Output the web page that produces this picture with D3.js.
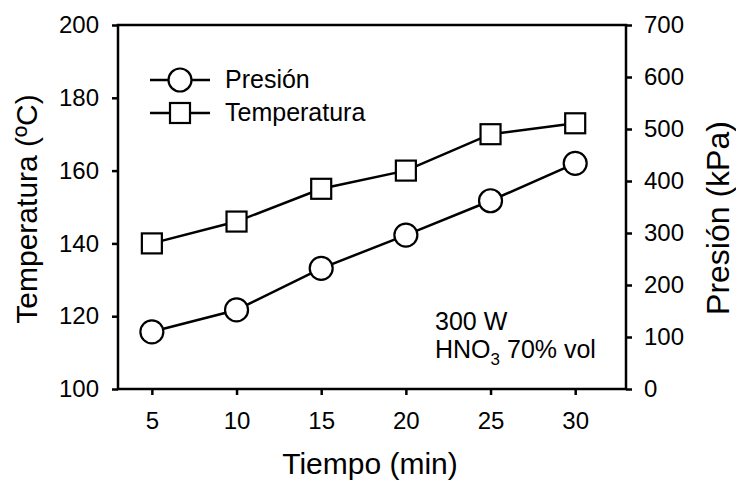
<!DOCTYPE html>
<html><head><meta charset="utf-8">
<script src="https://cdn.jsdelivr.net/npm/d3@7"></script>
<style>body{margin:0;background:#fff}svg{display:block}text{font-family:"Liberation Sans",Arial,sans-serif;fill:#000}</style>
</head><body><svg id="c" width="736" height="480"></svg>
<script>
const tiempo = [5, 10, 15, 20, 25, 30];
const presion = [110, 152, 232, 296, 362, 434];
const temperatura = [140, 146, 155, 160, 170, 173];
const xTicks = [5, 10, 15, 20, 25, 30];
const tempTicks = [100, 120, 140, 160, 180, 200];
const presTicks = [0, 100, 200, 300, 400, 500, 600, 700];

const svg = d3.select("#c");
const L = 118, R = 626, T = 25, B = 389;
const x = d3.scaleLinear().domain([3, 33]).range([L, R]);
const yT = d3.scaleLinear().domain([100, 200]).range([B, T]);
const yP = d3.scaleLinear().domain([0, 700]).range([B, T]);

svg.append("rect").attr("x", L).attr("y", T).attr("width", R - L).attr("height", B - T)
  .attr("fill", "none").attr("stroke", "#000").attr("stroke-width", 2.5);

const fs = "24px";
const gx = svg.append("g").attr("transform", `translate(0,${B})`)
  .call(d3.axisBottom(x).tickValues(xTicks).tickSize(6).tickPadding(17));
const gl = svg.append("g").attr("transform", `translate(${L},0)`)
  .call(d3.axisLeft(yT).tickValues(tempTicks).tickSize(6).tickPadding(13));
const gr = svg.append("g").attr("transform", `translate(${R},0)`)
  .call(d3.axisRight(yP).tickValues(presTicks).tickSize(6).tickPadding(12));
[gx, gl, gr].forEach(g => {
  g.attr("font-size", null).attr("font-family", null);
  g.select(".domain").remove();
  g.selectAll(".tick line").attr("stroke", "#000").attr("stroke-width", 2.5);
  g.selectAll(".tick text").attr("font-size", fs).attr("fill", "#000");
});

svg.append("text").attr("x", 370).attr("y", 474).attr("text-anchor", "middle")
  .attr("font-size", "30px").text("Tiempo (min)");
svg.append("text").attr("transform", `translate(37,209) rotate(-90)`)
  .attr("text-anchor", "middle").attr("font-size", "30px").text("Temperatura (ºC)");
svg.append("text").attr("transform", `translate(729,218) rotate(-90)`)
  .attr("text-anchor", "middle").attr("font-size", "32px").text("Presión (kPa)");

const lineT = d3.line().x((d, i) => x(tiempo[i])).y(d => yT(d));
const lineP = d3.line().x((d, i) => x(tiempo[i])).y(d => yP(d));
svg.append("path").attr("d", lineT(temperatura)).attr("fill", "none").attr("stroke", "#000").attr("stroke-width", 2.5);
svg.append("path").attr("d", lineP(presion)).attr("fill", "none").attr("stroke", "#000").attr("stroke-width", 2.5);

const S = 20, Rr = 11.5;
svg.selectAll(".sq").data(temperatura).enter().append("rect")
  .attr("x", (d, i) => x(tiempo[i]) - S / 2).attr("y", d => yT(d) - S / 2)
  .attr("width", S).attr("height", S).attr("fill", "#fff").attr("stroke", "#000").attr("stroke-width", 2.2);
svg.selectAll(".ci").data(presion).enter().append("circle")
  .attr("cx", (d, i) => x(tiempo[i])).attr("cy", d => yP(d)).attr("r", Rr)
  .attr("fill", "#fff").attr("stroke", "#000").attr("stroke-width", 2.2);

const lg = svg.append("g");
lg.append("line").attr("x1", 150).attr("x2", 210).attr("y1", 80).attr("y2", 80).attr("stroke", "#000").attr("stroke-width", 2.5);
lg.append("circle").attr("cx", 180).attr("cy", 80).attr("r", Rr).attr("fill", "#fff").attr("stroke", "#000").attr("stroke-width", 2.2);
lg.append("text").attr("x", 225).attr("y", 88).attr("font-size", "25px").text("Presión");
lg.append("line").attr("x1", 150).attr("x2", 210).attr("y1", 113).attr("y2", 113).attr("stroke", "#000").attr("stroke-width", 2.5);
lg.append("rect").attr("x", 180 - S / 2).attr("y", 113 - S / 2).attr("width", S).attr("height", S).attr("fill", "#fff").attr("stroke", "#000").attr("stroke-width", 2.2);
lg.append("text").attr("x", 225).attr("y", 121).attr("font-size", "25px").text("Temperatura");

svg.append("text").attr("x", 435).attr("y", 330).attr("font-size", "25px").text("300 W");
const an = svg.append("text").attr("x", 435).attr("y", 358).attr("font-size", "25px");
an.append("tspan").text("HNO");
an.append("tspan").attr("font-size", "17px").attr("dy", 7).text("3");
an.append("tspan").attr("dy", -7).text(" 70% vol");
</script></body></html>
